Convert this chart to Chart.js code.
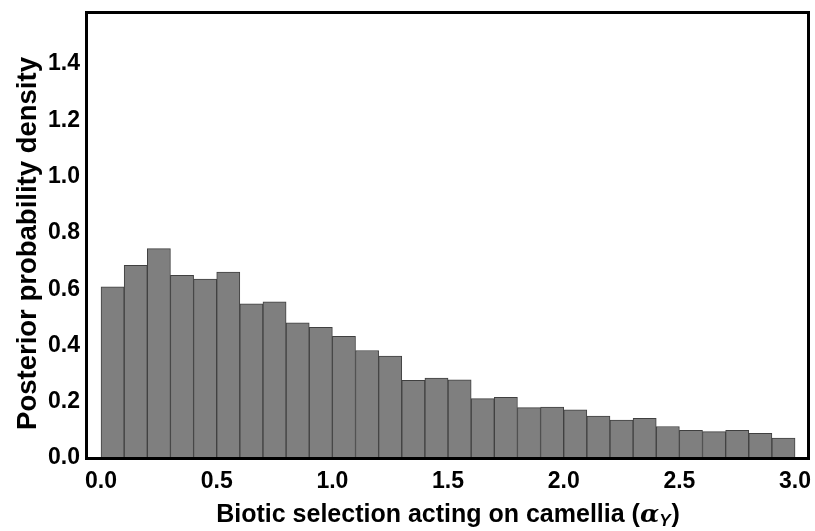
<!DOCTYPE html>
<html>
<head>
<meta charset="utf-8">
<script src="https://cdn.jsdelivr.net/npm/chart.js@4.4.1/dist/chart.umd.min.js"></script>
<style>
  html, body { margin: 0; padding: 0; background: #ffffff; }
  #wrap { position: relative; width: 815px; height: 531px; }
  canvas { display: block; }
</style>
</head>
<body>
<div id="wrap"><canvas id="c" width="815" height="531"></canvas></div>
<script>
// Histogram bin centres (bin width 0.1) and posterior densities
const binCenters = [0.05,0.15,0.25,0.35,0.45,0.55,0.65,0.75,0.85,0.95,
                    1.05,1.15,1.25,1.35,1.45,1.55,1.65,1.75,1.85,1.95,
                    2.05,2.15,2.25,2.35,2.45,2.55,2.65,2.75,2.85,2.95];
const density = [0.608,0.685,0.744,0.649,0.636,0.661,0.548,0.555,0.480,0.464,
                 0.432,0.382,0.362,0.276,0.284,0.278,0.211,0.216,0.179,0.181,
                 0.171,0.149,0.135,0.141,0.112,0.098,0.094,0.098,0.088,0.071];
const xTicks = [0.0,0.5,1.0,1.5,2.0,2.5,3.0];
const yTicks = [0.0,0.2,0.4,0.6,0.8,1.0,1.2,1.4];
const yTitle = 'Posterior probability density';
const xTitleMain = 'Biotic selection acting on camellia (';
const xTitleSym = 'α';
const xTitleSub = 'Y';
const xTitleEnd = ')';

const FONT = '"Liberation Sans", Arial, sans-serif';

const framePlugin = {
  id: 'frame',
  afterDraw(chart) {
    const {ctx, chartArea: a} = chart;
    ctx.save();
    ctx.strokeStyle = '#000000';
    ctx.lineWidth = 3;
    ctx.strokeRect(a.left + 0.5, a.top + 0.5, a.right - a.left, a.bottom - a.top);
    ctx.restore();
  }
};

const titlePlugin = {
  id: 'titles',
  afterDraw(chart) {
    const ctx = chart.ctx;
    ctx.save();
    ctx.fillStyle = '#000000';
    // x-axis title with italic alpha and subscript Y
    ctx.textBaseline = 'alphabetic';
    ctx.textAlign = 'left';
    const fMain = 'bold 25px ' + FONT;
    const fSym = 'italic bold 25px "DejaVu Serif", serif';
    const fSub = 'italic bold 17px ' + FONT;
    ctx.font = fMain;
    const w1 = ctx.measureText(xTitleMain).width;
    const w4 = ctx.measureText(xTitleEnd).width;
    ctx.font = fSym;
    const w2 = ctx.measureText(xTitleSym).width;
    ctx.font = fSub;
    const w3 = ctx.measureText(xTitleSub).width;
    const total = w1 + w2 + w3 + w4 + 1;
    const cx = 448;
    let x = cx - total / 2;
    const y = 522;
    ctx.font = fMain; ctx.fillText(xTitleMain, x, y); x += w1;
    ctx.font = fSym; ctx.fillText(xTitleSym, x, y); x += w2;
    ctx.font = fSub; ctx.fillText(xTitleSub, x, y + 4); x += w3 + 1;
    ctx.font = fMain; ctx.fillText(xTitleEnd, x, y);
    // y-axis title, rotated
    ctx.translate(28, 243.5);
    ctx.rotate(-Math.PI / 2);
    ctx.textAlign = 'center';
    ctx.textBaseline = 'middle';
    ctx.font = 'bold 27.5px ' + FONT;
    ctx.fillText(yTitle, 0, 0);
    ctx.restore();
  }
};

new Chart(document.getElementById('c'), {
  type: 'bar',
  data: {
    datasets: [{
      data: binCenters.map((x, i) => ({x: x, y: density[i]})),
      backgroundColor: '#7f7f7f',
      borderColor: '#404040',
      borderWidth: 1,
      barPercentage: 1.0,
      categoryPercentage: 1.0
    }]
  },
  options: {
    responsive: false,
    animation: false,
    devicePixelRatio: 1,
    layout: { padding: { top: 12, right: 7, left: 0, bottom: 0 } },
    plugins: { legend: { display: false }, tooltip: { enabled: false } },
    scales: {
      x: {
        type: 'linear',
        offset: false,
        min: -0.065,
        max: 3.056,
        afterBuildTicks(s) { s.ticks = xTicks.map(v => ({value: v})); },
        afterFit(s) { s.height = 73; s.paddingLeft = 0; s.paddingRight = 0; },
        grid: { display: false, drawTicks: false },
        border: { display: false },
        ticks: {
          color: '#000000',
          padding: 10,
          maxRotation: 0,
          font: { family: FONT, size: 23, weight: 'bold' },
          callback: v => Number(v).toFixed(1)
        },
        title: { display: false }
      },
      y: {
        min: 0,
        max: 1.585,
        afterBuildTicks(s) { s.ticks = yTicks.map(v => ({value: v})); },
        afterFit(s) { s.width = 86; s.paddingTop = 0; s.paddingBottom = 0; },
        grid: { display: false, drawTicks: false },
        border: { display: false },
        ticks: {
          color: '#000000',
          padding: 6,
          font: { family: FONT, size: 23, weight: 'bold' },
          callback: v => Number(v).toFixed(1)
        },
        title: { display: false, text: yTitle }
      }
    }
  },
  plugins: [framePlugin, titlePlugin]
});
</script>
</body>
</html>
